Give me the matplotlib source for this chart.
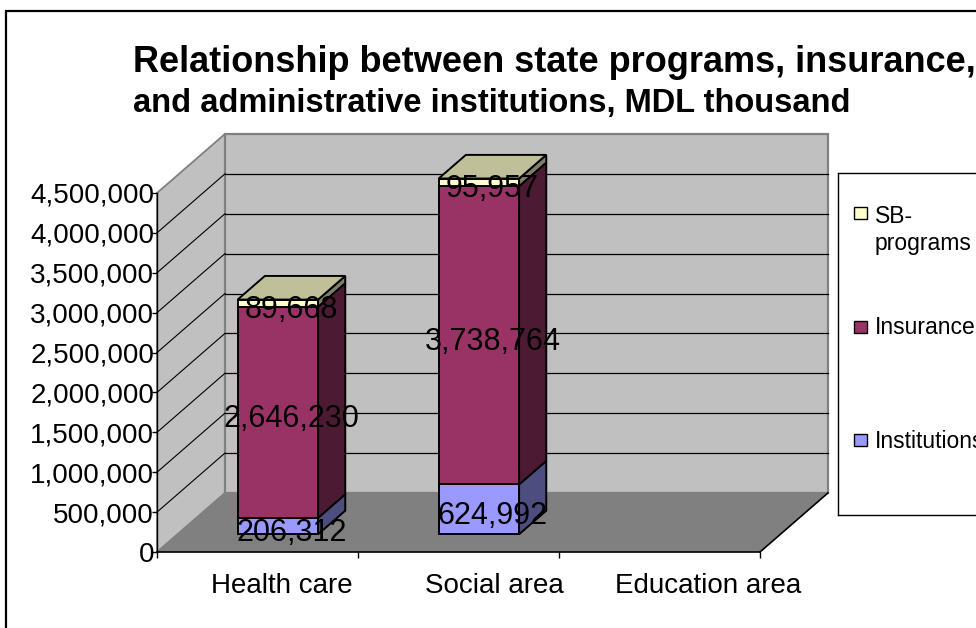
import numpy as np
import matplotlib
matplotlib.use("Agg")
import matplotlib.pyplot as plt
import matplotlib.colors as mcolors
from matplotlib.patches import Polygon, Rectangle
from matplotlib.ticker import FuncFormatter
from matplotlib.transforms import offset_copy

plt.rcParams['font.family'] = ['Liberation Sans', 'DejaVu Sans']

# data, MDL thousand
categories = ['Health care', 'Social area', 'Education area']
institutions = [206312, 624992, 0]
insurance = [2646230, 3738764, 0]
sb_programs = [89668, 95957, 0]
series_names = ['Institutions', 'Insurance', 'SB-programs']
legend_labels = ['SB-\nprograms', 'Insurance', 'Institutions']
yticks = np.arange(0, 4500001, 500000)

title_1 = 'Relationship between state programs, insurance,'
title_2 = 'and administrative institutions, MDL thousand'

colors = {'Institutions': '#9999FF', 'Insurance': '#993366', 'SB-programs': '#FFFFCC'}


def shade(c, f):
    r, g, b = mcolors.to_rgb(c)
    return (r * f, g * f, b * f)


W, H = 976, 628


def px_box(l, t, r, b):
    return [l / W, 1 - b / H, (r - l) / W, (b - t) / H]


fig = plt.figure(figsize=(9.76, 6.28), dpi=100)
ax = fig.add_axes(px_box(157, 193, 760, 552))
ymax = yticks[-1]
ncat = len(categories)
ax.set_xlim(0, ncat)
ax.set_ylim(0, ymax)
ax.patch.set_visible(False)

# depth of the floor (in data units) and bar placement inside it
dx, dy = 0.338, 740000
bw, f0, bd = 0.4, 0.3, 0.4

# walls and floor
ax.add_patch(Polygon([(0, 0), (0, ymax), (dx, ymax + dy), (dx, dy)],
                     fc='#C0C0C0', ec='#808080', lw=1.3, clip_on=False, zorder=0.5))
ax.add_patch(Polygon([(dx, dy), (ncat + dx, dy), (ncat + dx, ymax + dy), (dx, ymax + dy)],
                     fc='#C0C0C0', ec='#808080', lw=1.6, clip_on=False, zorder=0.5))
ax.add_patch(Polygon([(0, 0), (ncat, 0), (ncat + dx, dy), (dx, dy)],
                     fc='#808080', ec='none', clip_on=False, zorder=0.6))
ax.plot([ncat, ncat + dx], [0, dy], color='k', lw=1.2, clip_on=False, zorder=0.7)

# gridlines on back and side wall
for v in yticks[1:-1]:
    ax.plot([dx, ncat + dx], [v + dy, v + dy], color='k', lw=0.9, clip_on=False, zorder=0.7)
    ax.plot([0, dx], [v, v + dy], color='k', lw=0.8, clip_on=False, zorder=0.7)

label_tr = offset_copy(ax.transData, fig=fig, y=-7, units='dots')

for i in range(ncat):
    vals = [institutions[i], insurance[i], sb_programs[i]]
    x0 = i + 0.5 - bw / 2 + f0 * dx
    yo = f0 * dy
    ex, ey = bd * dx, bd * dy
    bottom = 0
    last = max([k for k, v in enumerate(vals) if v > 0], default=-1)
    for k, (val, name) in enumerate(zip(vals, series_names)):
        if val <= 0:
            continue
        top = bottom + val
        c = colors[name]
        ax.add_patch(Rectangle((x0, bottom + yo), bw, val, fc=c, ec='k', lw=1.4,
                               clip_on=False, zorder=3))
        ax.add_patch(Polygon([(x0 + bw, bottom + yo), (x0 + bw + ex, bottom + yo + ey),
                              (x0 + bw + ex, top + yo + ey), (x0 + bw, top + yo)],
                             fc=shade(c, 0.5), ec='k', lw=1.4, clip_on=False, zorder=3))
        if k == last:
            ax.add_patch(Polygon([(x0, top + yo), (x0 + bw, top + yo),
                                  (x0 + bw + ex, top + yo + ey), (x0 + ex, top + yo + ey)],
                                 fc=shade(c, 0.75), ec='k', lw=1.4, clip_on=False, zorder=3))
        ax.text(x0 + bw / 2 + ex / 2, bottom + val / 2 + yo, f'{val:,}',
                transform=label_tr, ha='center', va='center', fontsize=22, zorder=5)
        bottom = top

# axes
for s in ['top', 'right']:
    ax.spines[s].set_visible(False)
ax.spines['left'].set_linewidth(1.0)
ax.spines['bottom'].set_linewidth(1.2)
ax.spines['left'].set_zorder(0.8)
ax.set_yticks(yticks)
ax.yaxis.set_major_formatter(FuncFormatter(lambda v, p: f'{v:,.0f}'))
ax.tick_params(axis='y', direction='out', length=3.6, width=1, pad=-1.5, labelsize=20)

label_x = [0.62, 1.68, 2.74]
ax.set_xticks(range(ncat + 1))
ax.set_xticklabels([])
ax.set_xticks(label_x, minor=True)
ax.set_xticklabels(categories, minor=True)
ax.tick_params(axis='x', which='major', direction='out', length=4.3, width=1)
ax.tick_params(axis='x', which='minor', length=0, pad=15, labelsize=20)

# title (first line runs off the right edge)
fig.text(133 / W, 1 - 72 / H, title_1, fontsize=26, weight='bold', va='baseline')
fig.text(133 / W, 1 - 112 / H, title_2, fontsize=23.5, weight='bold', va='baseline')

# legend box
lax = fig.add_axes(px_box(838, 173, 1000, 515))
lax.set_xlim(0, 162)
lax.set_ylim(342, 0)
lax.set_xticks([])
lax.set_yticks([])
lax.patch.set_facecolor('white')
for s in lax.spines.values():
    s.set_linewidth(1.0)
leg_colors = [colors['SB-programs'], colors['Insurance'], colors['Institutions']]
leg_y = [40, 154, 267]
for lab, c, y in zip(legend_labels, leg_colors, leg_y):
    lax.add_patch(Rectangle((16, y - 6.5), 12.5, 12.5, fc=c, ec='k', lw=1.0))
    if '\n' in lab:
        lax.text(37, y - 8, lab, fontsize=16.5, va='top', ha='left', linespacing=1.2)
    else:
        lax.text(37, y + 1, lab, fontsize=16.5, va='center', ha='left')

# outer frame
fig.add_artist(Rectangle((6 / W, -0.1), 1.2, 1.1 - 11 / H, transform=fig.transFigure,
                         fill=False, ec='k', lw=1.6))

fig.savefig('out.png', dpi=100)
